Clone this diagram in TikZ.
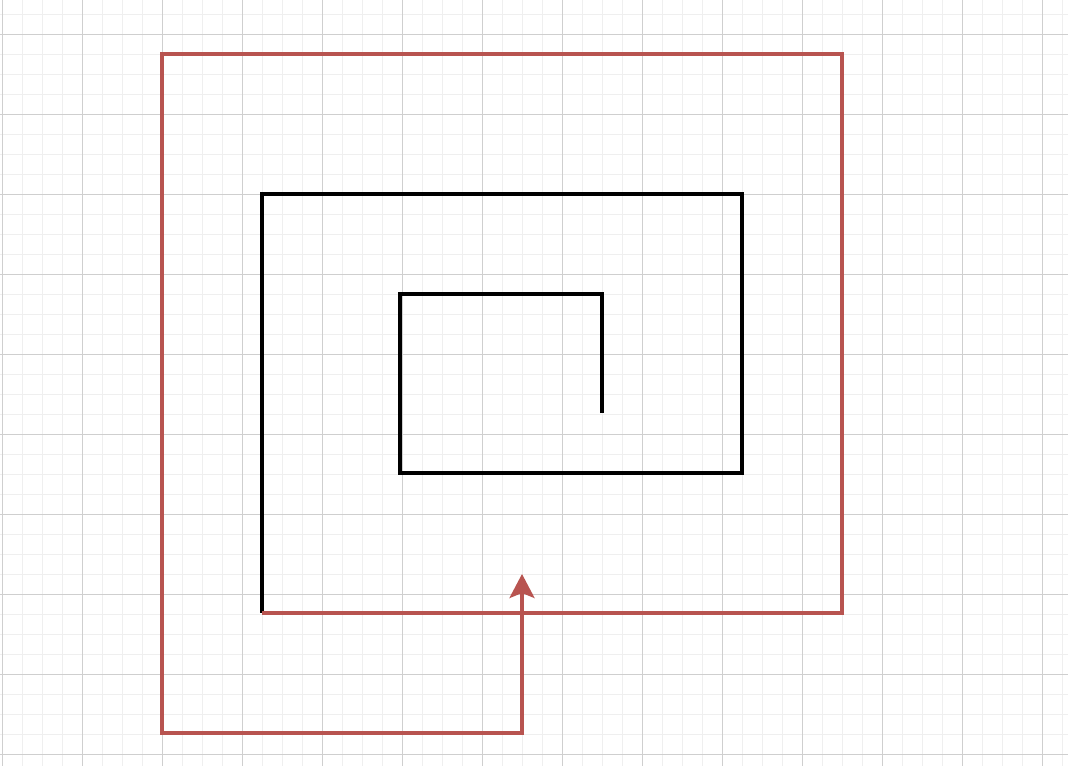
\documentclass[tikz,border=0pt]{standalone}
\usetikzlibrary{arrows.meta}
\definecolor{spiralred}{HTML}{B85450}
\definecolor{minorgray}{HTML}{EFEFEF}
\definecolor{majorgray}{HTML}{CFCFCF}
\begin{document}
\begin{tikzpicture}[
		x=1pt, y=-1pt,
		minor line/.style={draw=minorgray, line width=1pt},
		major line/.style={draw=majorgray, line width=1pt},
		inner path/.style={draw=black, line width=3.4pt},
		outer path/.style={draw=spiralred, line width=3.2pt, -{Stealth[length=24pt,width=25pt,inset=5pt]}}
	]
	\fill[white] (0,0) rectangle (1068,766);
	\useasboundingbox (0,0) rectangle (1068,766);
	% grid
	\foreach \gx in {2,22,...,1062} \draw[minor line] (\gx,0) -- (\gx,766);
	\foreach \gy in {14,34,...,754} \draw[minor line] (0,\gy) -- (1068,\gy);
	\foreach \gx in {2,82,...,1042} \draw[major line] (\gx,0) -- (\gx,766);
	\foreach \gy in {34,114,...,754} \draw[major line] (0,\gy) -- (1068,\gy);
	% corners of the spiral
	\coordinate (start) at (602,413);
	\coordinate (c1) at (602,294);
	\coordinate (c2) at (400,294);
	\coordinate (c3) at (400,473);
	\coordinate (c4) at (742,473);
	\coordinate (c5) at (742,194);
	\coordinate (c6) at (262,194);
	\coordinate (join) at (262,613);
	\coordinate (r1) at (842,613);
	\coordinate (r2) at (842,54);
	\coordinate (r3) at (162,54);
	\coordinate (r4) at (162,733);
	\coordinate (r5) at (522,733);
	\coordinate (tip) at (522,574);
	\draw[inner path] (start) -- (c1) -- (c2) -- (c3) -- (c4) -- (c5) -- (c6) -- (join);
	\draw[outer path] (join) -- (r1) -- (r2) -- (r3) -- (r4) -- (r5) -- (tip);
\end{tikzpicture}
\end{document}
